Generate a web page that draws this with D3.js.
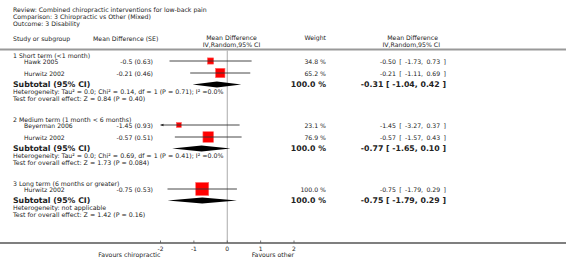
<!DOCTYPE html>
<html><head><meta charset="utf-8">
<script src="https://cdn.jsdelivr.net/npm/d3@7"></script>
<style>
html,body{margin:0;padding:0;background:#fff;}
text{font-family:"DejaVu Sans",Verdana,sans-serif;fill:#222;}
</style></head>
<body><svg id="c" width="566" height="273"></svg>
<script>
const titleLines = ["Review:  Combined chiropractic interventions for low-back pain",
  "Comparison:  3 Chiropractic vs Other (Mixed)",
  "Outcome:  3 Disability"];
const groupLabels = ["1 Short term (<1 month)", "2 Medium term (1 month < 6 months)", "3 Long term (6 months or greater)"];
const studyNames = ["Hawk 2005", "Hurwitz 2002", "Beyerman 2006", "Hurwitz 2002", "Hurwitz 2002"];
const studyGroup = [0, 0, 1, 1, 2];
const studyMDSE = ["-0.5 (0.63)", "-0.21 (0.46)", "-1.45 (0.93)", "-0.57 (0.51)", "-0.75 (0.53)"];
const studyMD = [-0.50, -0.21, -1.45, -0.57, -0.75];
const studyLo = [-1.73, -1.11, -3.27, -1.57, -1.79];
const studyHi = [0.73, 0.69, 0.37, 0.43, 0.29];
const studyWeight = [34.8, 65.2, 23.1, 76.9, 100.0];
const subMD = [-0.31, -0.77, -0.75];
const subLo = [-1.04, -1.65, -1.79];
const subHi = [0.42, 0.10, 0.29];
const hetText = ["Heterogeneity: Tau\u00b2 = 0.0; Chi\u00b2 = 0.14, df = 1 (P = 0.71); I\u00b2 =0.0%",
  "Heterogeneity: Tau\u00b2 = 0.0; Chi\u00b2 = 0.69, df = 1 (P = 0.41); I\u00b2 =0.0%",
  "Heterogeneity: not applicable"];
const testText = ["Test for overall effect: Z = 0.84 (P = 0.40)",
  "Test for overall effect: Z = 1.73 (P = 0.084)",
  "Test for overall effect: Z = 1.42 (P = 0.16)"];
const axisTicks = [-2, -1, 0, 1, 2];
const favLeft = "Favours chiropractic", favRight = "Favours other";

const svg = d3.select("#c");
const W = 566;
const x = d3.scaleLinear().domain([-2, 2]).range([160.5, 294]);
const size = d3.scaleLinear().domain([23.1, 100]).range([5, 13]);
const fmt = v => v.toFixed(2);
const ciText = (m, l, h) => `${fmt(m)} [ ${fmt(l)}, ${fmt(h)} ]`;

// layout
let y = 55;
const groupY = [], studyY = [], subY = [], hetY = [], testY = [];
groupLabels.forEach((g, gi) => {
  groupY[gi] = y; y += 6;
  studyGroup.forEach((sg, si) => { if (sg === gi) { studyY[si] = y; y += 12; } });
  y -= 0.5;
  subY[gi] = y; y += 7;
  hetY[gi] = y; y += 6.5;
  testY[gi] = y; y += 21;
});

// titles
titleLines.forEach((t, i) => svg.append("text").attr("x", 13).attr("y", 9 + i * 7)
  .attr("dominant-baseline", "central").attr("font-size", 6.2).text(t));

// headers
const hdr = (t, xx, yy, anchor) => svg.append("text").attr("x", xx).attr("y", yy)
  .attr("dominant-baseline", "central").attr("font-size", 6.2).attr("text-anchor", anchor).text(t);
hdr("Study or subgroup", 13, 38, "start");
hdr("Mean Difference (SE)", 93, 38, "start");
hdr("Mean Difference", 231.5, 37.5, "middle");
hdr("IV,Random,95% CI", 231.5, 44, "middle");
hdr("Weight", 326, 37.5, "end");
hdr("Mean Difference", 438, 37.5, "end");
hdr("IV,Random,95% CI", 440, 44, "end");

svg.append("line").attr("x1", 0).attr("x2", W).attr("y1", 49.5).attr("y2", 49.5)
  .attr("stroke", "#999").attr("stroke-width", 2);

// zero line
svg.append("line").attr("x1", x(0)).attr("x2", x(0)).attr("y1", 50.5).attr("y2", 243)
  .attr("stroke", "#aaa").attr("stroke-width", 1);

// groups text
groupLabels.forEach((g, gi) => {
  svg.append("text").attr("x", 13).attr("y", groupY[gi]).attr("dominant-baseline", "central")
    .attr("font-size", 6.2).text(g);
  svg.append("text").attr("x", 13).attr("y", subY[gi]).attr("dominant-baseline", "central")
    .attr("font-size", 7.8).attr("font-weight", "bold").text("Subtotal (95% CI)");
  svg.append("text").attr("x", 13).attr("y", hetY[gi]).attr("dominant-baseline", "central")
    .attr("font-size", 6.3).text(hetText[gi]);
  svg.append("text").attr("x", 13).attr("y", testY[gi]).attr("dominant-baseline", "central")
    .attr("font-size", 6.3).text(testText[gi]);
  svg.append("text").attr("x", 326).attr("y", subY[gi]).attr("dominant-baseline", "central")
    .attr("font-size", 7.8).attr("font-weight", "bold").attr("text-anchor", "end").text("100.0 %");
  svg.append("text").attr("x", 446).attr("y", subY[gi]).attr("dominant-baseline", "central")
    .attr("font-size", 7.8).attr("font-weight", "bold").attr("text-anchor", "end")
    .text(ciText(subMD[gi], subLo[gi], subHi[gi]));
  const yy = subY[gi];
  svg.append("path").attr("d", `M${x(subLo[gi])},${yy} L${x(subMD[gi])},${yy - 3} L${x(subHi[gi])},${yy} L${x(subMD[gi])},${yy + 3} Z`)
    .attr("fill", "#000");
});

// studies
studyNames.forEach((n, i) => {
  const yy = studyY[i];
  svg.append("text").attr("x", 24).attr("y", yy).attr("dominant-baseline", "central").attr("font-size", 6.1).text(n);
  svg.append("text").attr("x", 153).attr("y", yy).attr("dominant-baseline", "central").attr("font-size", 6.2)
    .attr("text-anchor", "end").text(studyMDSE[i]);
  svg.append("text").attr("x", 326).attr("y", yy).attr("dominant-baseline", "central").attr("font-size", 6.2)
    .attr("text-anchor", "end").text(studyWeight[i].toFixed(1) + " %");
  svg.append("text").attr("x", 446).attr("y", yy).attr("dominant-baseline", "central").attr("font-size", 6.2)
    .attr("text-anchor", "end").attr("word-spacing", 1.4).text(ciText(studyMD[i], studyLo[i], studyHi[i]));
  const s = size(studyWeight[i]);
  svg.append("rect").attr("x", x(studyMD[i]) - s / 2).attr("y", yy - s / 2).attr("width", s).attr("height", s)
    .attr("fill", "#f00").attr("stroke", "#f66").attr("stroke-width", 0.6);
  const lo = Math.max(studyLo[i], -2), hi = Math.min(studyHi[i], 2);
  svg.append("line").attr("x1", x(lo)).attr("x2", x(hi)).attr("y1", yy).attr("y2", yy)
    .attr("stroke", "#333").attr("stroke-width", 0.9);
  if (studyLo[i] < -2) {
    svg.append("path").attr("d", `M${x(-2)},${yy} L${x(-2) + 3},${yy - 1.3} L${x(-2) + 3},${yy + 1.3} Z`).attr("fill", "#222");
  }
});

// axis
svg.append("line").attr("x1", 0).attr("x2", W).attr("y1", 243).attr("y2", 243)
  .attr("stroke", "#555").attr("stroke-width", 1.3);
axisTicks.forEach(t => {
  svg.append("line").attr("x1", x(t)).attr("x2", x(t)).attr("y1", 240.5).attr("y2", 243).attr("stroke", "#555").attr("stroke-width", 0.8);
  svg.append("text").attr("x", x(t)).attr("y", 248).attr("dominant-baseline", "central")
    .attr("font-size", 6).attr("text-anchor", "middle").text(t < 0 ? "-" + Math.abs(t) : String(t));
});
svg.append("text").attr("x", x(-2)).attr("y", 254.5).attr("dominant-baseline", "central").attr("font-size", 6.2)
  .attr("text-anchor", "end").text(favLeft);
svg.append("text").attr("x", x(2)).attr("y", 254.5).attr("dominant-baseline", "central").attr("font-size", 6.2)
  .attr("text-anchor", "end").text(favRight);
</script></body></html>
